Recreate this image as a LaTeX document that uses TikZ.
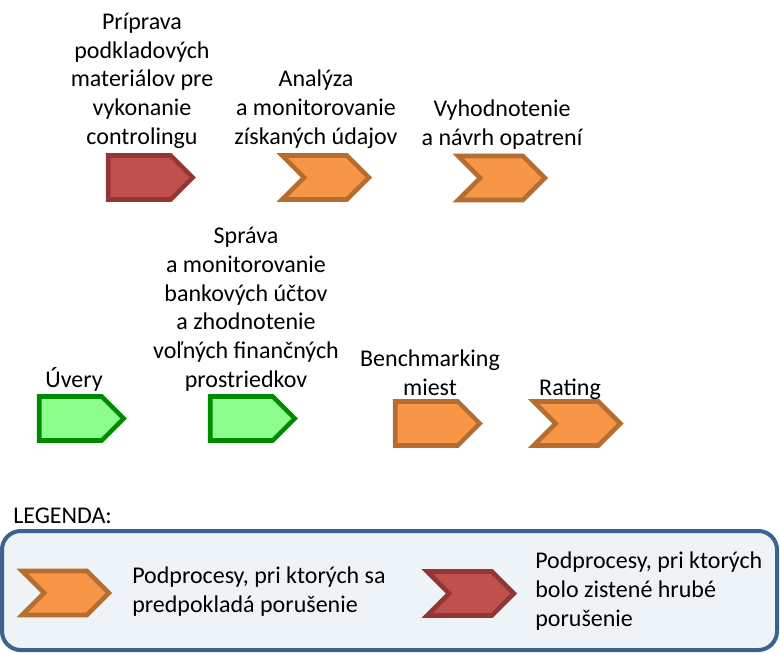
\documentclass[tikz,border=0pt]{standalone}
\usepackage{fontspec}
\setmainfont{Carlito}
\usetikzlibrary{shapes.symbols}

\definecolor{redfill}{HTML}{C0504D}
\definecolor{redline}{HTML}{943634}
\definecolor{orfill}{HTML}{F79646}
\definecolor{orline}{HTML}{B66D31}
\definecolor{grfill}{HTML}{8CFC8C}
\definecolor{grline}{HTML}{008A00}
\definecolor{legfill}{HTML}{EEF3F8}
\definecolor{legline}{HTML}{3E6290}

\tikzset{
  home/.style={signal, signal to=east, signal pointer angle=90,
    minimum width=63.4pt, minimum height=33pt, line width=3.4pt, inner sep=0pt},
  chev/.style={home, signal from=west, minimum width=65pt},
  bad/.style={draw=redline, fill=redfill},
  risk/.style={draw=orline, fill=orfill},
  ok/.style={draw=grline, fill=grfill},
  lbl/.style={align=center, font=\fontsize{18}{21.5}\selectfont, inner sep=0pt, anchor=base},
  lgd/.style={lbl, align=left, anchor=base west}
}

\begin{document}
\begin{tikzpicture}[x=0.75pt,y=-0.75pt]
    \useasboundingbox (0,0) rectangle (780,653);

    % prvy rad
    \node[home, bad] (priprava) at (139.5,177.5) {};
    \node[chev, risk] (analyza) at (325.5,177.5) {};
    \node[chev, risk] (vyhodn) at (501.5,178) {};
    \node[lbl] (tpriprava) at (142,144) {Príprava\\podkladových\\materiálov pre\\vykonanie\\controlingu};
    \node[lbl] (tanalyza) at (316,144) {Analýza\\a monitorovanie\\získaných údajov};
    \node[lbl] (tvyhodn) at (502,145) {Vyhodnotenie\\a návrh opatrení};

    % druhy rad
    \node[home, ok] (uvery) at (70.5,418.5) {};
    \node[home, ok] (sprava) at (241.5,418.5) {};
    \node[home, risk] (bench) at (426.5,423.5) {};
    \node[chev, risk] (rating) at (577,423.5) {};
    \node[lbl] (tuvery) at (74,387) {Úvery};
    \node[lbl] (tsprava) at (246,387) {Správa\\a monitorovanie\\bankových účtov\\a zhodnotenie\\voľných finančných\\prostriedkov};
    \node[lbl] (tbench) at (430,395) {Benchmarking\\miest};
    \node[lbl] (trating) at (570,395) {Rating};

    % legenda
    \node[lgd] (legenda) at (13,523) {LEGENDA:};
    \draw[legline, fill=legfill, line width=3pt, rounded corners=14pt] (2,531) rectangle (777,650);
    \node[chev, risk] (lrisk) at (65.5,593) {};
    \node[chev, bad] (lbad) at (470.5,593.5) {};
    \node[lgd] (trisk) at (132,612) {Podprocesy, pri ktorých sa\\predpokladá porušenie};
    \node[lgd] (tbad) at (535,626) {Podprocesy, pri ktorých\\bolo zistené hrubé\\porušenie};
\end{tikzpicture}
\end{document}
